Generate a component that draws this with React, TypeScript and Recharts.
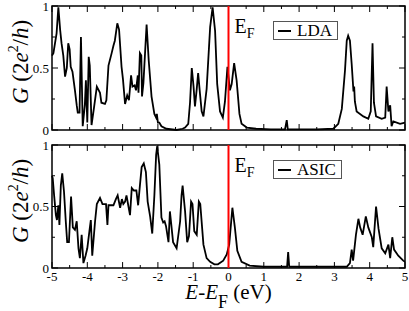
import { LineChart, Line, XAxis, YAxis, ReferenceLine, ReferenceArea } from "recharts";

const FONT = "'Liberation Serif', 'Times New Roman', 'DejaVu Serif', serif";

// tick positions (labels only on the major ones)
const xTicks = [-5, -4.5, -4, -3.5, -3, -2.5, -2, -1.5, -1, -0.5, 0, 0.5, 1, 1.5, 2, 2.5, 3, 3.5, 4, 4.5, 5];
const xMajor = [-5, -4, -3, -2, -1, 0, 1, 2, 3, 4, 5];
const yTicks = [0, 0.25, 0.5, 0.75, 1];
const yMajor = [0, 0.5, 1];

// LDA transmission
const ldaE = [
  -5.0, -4.96, -4.87, -4.82, -4.77, -4.73, -4.68, -4.63, -4.58, -4.54, -4.5, -4.47, -4.42, -4.35, -4.3, -4.27,
  -4.22, -4.18, -4.13, -4.07, -4.04, -4.0, -3.96, -3.93, -3.88, -3.81, -3.73, -3.64, -3.6, -3.5, -3.46, -3.4,
  -3.31, -3.26, -3.22, -3.15, -3.1, -3.03, -2.99, -2.93, -2.87, -2.82, -2.76, -2.72, -2.66, -2.62, -2.57, -2.55,
  -2.51, -2.47, -2.45, -2.41, -2.32, -2.26, -2.18, -2.1, -2.05, -2.03, -2.0, -1.96, -1.9, -1.76, -1.47, -1.3,
  -1.23, -1.14, -1.09, -1.04, -0.99, -0.95, -0.9, -0.86, -0.81, -0.76, -0.71, -0.62, -0.52, -0.45, -0.38, -0.32,
  -0.24, -0.16, -0.1, -0.03, 0.04, 0.09, 0.16, 0.23, 0.31, 0.37, 0.52, 0.78, 1.2, 1.6, 1.65, 1.68,
  2.5, 2.97, 3.11, 3.21, 3.3, 3.35, 3.39, 3.44, 3.49, 3.54, 3.56, 3.58, 3.63, 3.82, 3.96, 4.03,
  4.08, 4.12, 4.18, 4.34, 4.44, 4.48, 4.53, 4.58, 4.62, 4.67, 4.86, 5.0,
];
const ldaG = [
  0.6, 0.62, 0.78, 0.99, 0.81, 0.7, 0.6, 0.43, 0.5, 0.7, 0.65, 0.51, 0.47, 0.32, 0.2, 0.14,
  0.14, 0.75, 0.03, 0.2, 0.4, 0.06, 0.59, 0.52, 0.04, 0.18, 0.35, 0.3, 0.22, 0.21, 0.24, 0.52,
  0.62, 0.68, 0.72, 0.86, 0.81, 0.51, 0.41, 0.21, 0.28, 0.24, 0.44, 0.35, 0.36, 0.32, 0.44, 0.3,
  0.62, 0.6, 0.27, 0.38, 0.85, 0.56, 0.27, 0.13, 0.1, 0.13, 0.06, 0.06, 0.03, 0.01, 0.0, 0.01,
  0.02, 0.05, 0.22, 0.5, 0.35, 0.19, 0.33, 0.46, 0.3, 0.15, 0.11, 0.33, 0.83, 0.99, 0.8, 0.37,
  0.15, 0.1, 0.23, 0.51, 0.32, 0.37, 0.54, 0.4, 0.13, 0.05, 0.02, 0.01, 0.005, 0.005, 0.08, 0.005,
  0.005, 0.01, 0.05, 0.17, 0.48, 0.72, 0.76, 0.72, 0.53, 0.31, 0.35, 0.23, 0.15, 0.11, 0.09, 0.15,
  0.7, 0.22, 0.11, 0.09, 0.1, 0.35, 0.15, 0.2, 0.03, 0.07, 0.05, 0.06,
];

// ASIC transmission
const asicE = [
  -5.0, -4.98, -4.94, -4.89, -4.86, -4.82, -4.79, -4.75, -4.71, -4.66, -4.61, -4.57, -4.52, -4.46, -4.41, -4.35,
  -4.3, -4.25, -4.21, -4.16, -4.11, -4.05, -4.0, -3.94, -3.9, -3.86, -3.78, -3.73, -3.64, -3.57, -3.47, -3.43,
  -3.4, -3.26, -3.19, -3.14, -3.07, -3.02, -2.98, -2.93, -2.89, -2.84, -2.79, -2.74, -2.68, -2.61, -2.56, -2.51,
  -2.46, -2.4, -2.34, -2.29, -2.22, -2.16, -2.1, -2.05, -2.02, -1.96, -1.9, -1.85, -1.81, -1.77, -1.7, -1.66,
  -1.62, -1.57, -1.47, -1.37, -1.33, -1.3, -1.23, -1.17, -1.12, -1.06, -1.02, -0.97, -0.9, -0.84, -0.8, -0.71,
  -0.62, -0.52, -0.4, -0.3, -0.15, -0.05, 0.02, 0.11, 0.18, 0.25, 0.37, 0.6, 1.0, 1.66, 1.69, 1.72,
  3.0, 3.35, 3.44, 3.49, 3.53, 3.61, 3.68, 3.73, 3.8, 3.89, 3.96, 4.06, 4.1, 4.18, 4.25, 4.34,
  4.44, 4.53, 4.58, 4.64, 4.69, 4.81, 4.95, 5.0,
];
const asicG = [
  0.75, 0.73, 0.59, 0.43, 0.39, 0.51, 0.35, 0.67, 0.77, 0.62, 0.38, 0.21, 0.21, 0.58, 0.33, 0.31,
  0.38, 0.16, 0.08, 0.27, 0.04, 0.1, 0.16, 0.3, 0.39, 0.1, 0.38, 0.52, 0.57, 0.52, 0.52, 0.35,
  0.51, 0.51, 0.56, 0.59, 0.49, 0.56, 0.52, 0.54, 0.59, 0.51, 0.43, 0.65, 0.63, 0.63, 0.51, 0.67,
  0.82, 0.85, 0.78, 0.54, 0.42, 0.28, 0.59, 0.92, 0.99, 0.84, 0.41, 0.37, 0.38, 0.34, 0.21, 0.46,
  0.35, 0.21, 0.16, 0.38, 0.59, 0.67, 0.46, 0.21, 0.26, 0.54, 0.52, 0.3, 0.27, 0.54, 0.52, 0.19,
  0.08, 0.05, 0.03, 0.03, 0.06, 0.11, 0.19, 0.49, 0.33, 0.14, 0.05, 0.02, 0.01, 0.01, 0.13, 0.01,
  0.01, 0.01, 0.04, 0.15, 0.06, 0.27, 0.4, 0.33, 0.27, 0.42, 0.33, 0.25, 0.17, 0.5, 0.32, 0.16,
  0.12, 0.19, 0.08, 0.25, 0.15, 0.1, 0.06, 0.05,
];

const lda = ldaE.map((e, i) => ({ e, g: ldaG[i] }));
const asic = asicE.map((e, i) => ({ e, g: asicG[i] }));

// inward tick lengths in axis units (plot is ~353 x 124 px)
const xTickLen = (v: number) => (xMajor.includes(v) ? 6 : 3) / 124;
const yTickLen = (v: number) => ((yMajor.includes(v) ? 6 : 3) * 10) / 353;

function XLabel(props: any) {
  const { x, y, payload } = props;
  if (!xMajor.includes(payload.value)) return <g />;
  return (
    <text x={x} y={y + 13} textAnchor="middle" fontSize={13} fill="#000" fontFamily={FONT}>
      {payload.value}
    </text>
  );
}

function YLabelTick(props: any) {
  const { x, y, payload } = props;
  if (!yMajor.includes(payload.value)) return <g />;
  return (
    <text x={x - 3} y={y + 4.5} textAnchor="end" fontSize={13} fill="#000" fontFamily={FONT}>
      {payload.value}
    </text>
  );
}

function EFLabel(props: any) {
  const { viewBox } = props;
  return (
    <text x={viewBox.x + 6} y={viewBox.y + 27} fontSize={20} fill="#000" fontFamily={FONT}>
      E
      <tspan fontSize={14} dy={5}>
        F
      </tspan>
    </text>
  );
}

function tickMarks() {
  const marks: any[] = [];
  xTicks.forEach((v) => {
    const l = xTickLen(v);
    marks.push(
      <ReferenceLine key={`b${v}`} segment={[{ x: v, y: 0 }, { x: v, y: l }]} stroke="#000" strokeWidth={1} ifOverflow="visible" />,
      <ReferenceLine key={`t${v}`} segment={[{ x: v, y: 1 }, { x: v, y: 1 - l }]} stroke="#000" strokeWidth={1} ifOverflow="visible" />
    );
  });
  yTicks.forEach((v) => {
    const l = yTickLen(v);
    marks.push(
      <ReferenceLine key={`l${v}`} segment={[{ x: -5, y: v }, { x: -5 + l, y: v }]} stroke="#000" strokeWidth={1} ifOverflow="visible" />,
      <ReferenceLine key={`r${v}`} segment={[{ x: 5, y: v }, { x: 5 - l, y: v }]} stroke="#000" strokeWidth={1} ifOverflow="visible" />
    );
  });
  return marks;
}

function Panel({ data, name, top, height, bottom, showX, boxWidth }: any) {
  return (
    <div style={{ position: "absolute", left: 0, top }}>
      <LineChart width={409} height={height} data={data} margin={{ top: 6, right: 4, bottom, left: 0 }}>
        <XAxis
          dataKey="e"
          type="number"
          domain={[-5, 5]}
          ticks={xTicks}
          interval={0}
          hide={!showX}
          height={20}
          tickSize={0}
          tickMargin={0}
          tickLine={false}
          axisLine={false}
          tick={(p: any) => <XLabel {...p} />}
        />
        <YAxis
          type="number"
          domain={[0, 1]}
          ticks={yTicks}
          interval={0}
          width={52}
          tickSize={0}
          tickMargin={0}
          tickLine={false}
          axisLine={false}
          tick={(p: any) => <YLabelTick {...p} />}
        />
        <ReferenceArea x1={-5} x2={5} y1={0} y2={1} fill="none" stroke="#000" strokeWidth={1.5} ifOverflow="visible" />
        {tickMarks()}
        <Line
          type="linear"
          dataKey="g"
          stroke="#000"
          strokeWidth={1.8}
          dot={false}
          isAnimationActive={false}
        />
        <ReferenceLine x={0} stroke="#ff0000" strokeWidth={2} label={<EFLabel />} />
      </LineChart>
      <div
        style={{
          position: "absolute",
          left: 273,
          top: 21,
          width: boxWidth,
          height: 19,
          border: "1px solid #555",
          boxSizing: "border-box",
          background: "#fff",
        }}
      >
        <div style={{ position: "absolute", left: 4, top: 8, width: 13, height: 2, background: "#000" }} />
        <div style={{ position: "absolute", left: 23, top: 0, fontSize: 17, lineHeight: "18px", color: "#000" }}>
          {name}
        </div>
      </div>
    </div>
  );
}

function YLabel({ cy }: { cy: number }) {
  return (
    <div
      style={{
        position: "absolute",
        left: 20,
        top: cy,
        transform: "translate(-50%, -50%) rotate(-90deg)",
        whiteSpace: "nowrap",
        fontSize: 23,
        lineHeight: 1,
      }}
    >
      <i>G</i> (2<i>e</i>
      <span style={{ fontSize: "0.6em", position: "relative", top: "-0.7em" }}>2</span>/<i>h</i>)
    </div>
  );
}

export default function App() {
  return (
    <div
      style={{
        position: "absolute",
        left: 0,
        top: 0,
        width: 409,
        height: 311,
        background: "#fff",
        fontFamily: FONT,
        overflow: "hidden",
      }}
    >
      <Panel data={lda} name="LDA" top={0} height={136} bottom={6} showX={false} boxWidth={65} />
      <Panel data={asic} name="ASIC" top={139} height={172} bottom={23} showX boxWidth={69} />
      <YLabel cy={62} />
      <YLabel cy={201} />
      <div
        style={{
          position: "absolute",
          left: 52,
          top: 283,
          width: 353,
          textAlign: "center",
          fontSize: 21,
          lineHeight: "18px",
          whiteSpace: "nowrap",
        }}
      >
        <i>E</i>-<i>E</i>
        <span style={{ fontSize: "0.85em", position: "relative", top: "0.5em" }}>F</span> (eV)
      </div>
    </div>
  );
}
